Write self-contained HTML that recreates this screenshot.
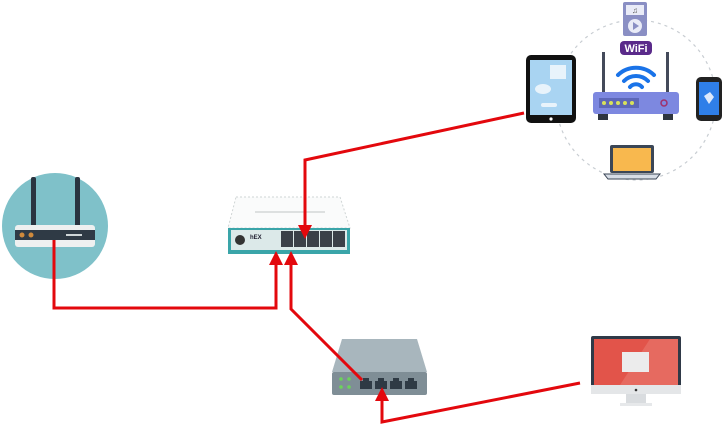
<!DOCTYPE html>
<html><head><meta charset="utf-8"><style>
html,body{margin:0;padding:0;background:#fff;}
svg{display:block;}
</style></head><body>
<svg width="726" height="429" viewBox="0 0 726 429" xmlns="http://www.w3.org/2000/svg" font-family="Liberation Sans, sans-serif">
<circle cx="55" cy="226" r="53" fill="#7fc1c9"/>
<rect x="31" y="177" width="5" height="50" rx="2" fill="#2a3440"/>
<rect x="75" y="177" width="5" height="50" rx="2" fill="#2a3440"/>
<rect x="15" y="225" width="80" height="22" rx="3" fill="#eef0f0"/>
<rect x="15" y="230" width="80" height="10" fill="#2f3a45"/>
<circle cx="22" cy="235" r="2.5" fill="#d08a3c"/><circle cx="31" cy="235" r="2.5" fill="#d08a3c"/>
<rect x="66" y="234" width="16" height="2" fill="#cfd6d8"/>
<path d="M236 197 L340 197 L350 228 L228 228 Z" fill="#fafbfb" stroke="#cfd5d5" stroke-width="1" stroke-dasharray="2 2"/>
<rect x="255" y="211" width="70" height="2" fill="#dde0e0"/>
<rect x="228" y="228" width="122" height="26" fill="#3aa5a9"/>
<rect x="231" y="230" width="116" height="20" fill="#dce9e9"/>
<circle cx="240" cy="240" r="5" fill="#333"/>
<text x="250" y="239" font-size="6" font-weight="bold" fill="#223">hEX</text>
<g fill="#3a4048">
<rect x="281" y="231" width="12" height="16"/><rect x="294" y="231" width="12" height="16"/><rect x="307" y="231" width="12" height="16"/><rect x="320" y="231" width="12" height="16"/><rect x="333" y="231" width="12" height="16"/>
</g>
<circle cx="636" cy="100" r="80" fill="none" stroke="#c8cdd2" stroke-width="1.2" stroke-dasharray="3 4"/>
<rect x="623" y="2" width="24" height="34" rx="2" fill="#8a8fc4"/>
<rect x="626" y="5" width="18" height="10" fill="#e9ebf7"/>
<text x="635" y="13" font-size="8" text-anchor="middle" fill="#555">♫</text>
<circle cx="635" cy="26" r="7" fill="#e9ebf7"/><path d="M633 22 L639 26 L633 30 Z" fill="#8a8fc4"/>
<rect x="620" y="41" width="32" height="14" rx="4" fill="#5a2a8a"/>
<text x="636" y="52" font-size="11" font-weight="bold" text-anchor="middle" fill="#fff">WiFi</text>
<rect x="602" y="52" width="3" height="42" fill="#444a5a"/>
<rect x="666" y="52" width="3" height="42" fill="#444a5a"/>
<g fill="none" stroke="#1a73e8" stroke-width="4" stroke-linecap="round">
<path d="M618 75 A26 26 0 0 1 654 75"/><path d="M624 81 A17 17 0 0 1 648 81"/><path d="M630 87 A8 8 0 0 1 642 87"/>
</g>
<rect x="593" y="92" width="86" height="22" rx="3" fill="#7d88e0"/>
<rect x="599" y="98" width="40" height="10" fill="#5d67b8"/>
<g fill="#d8e25a"><circle cx="604" cy="103" r="2"/><circle cx="611" cy="103" r="2"/><circle cx="618" cy="103" r="2"/><circle cx="625" cy="103" r="2"/><circle cx="632" cy="103" r="2"/></g>
<circle cx="664" cy="103" r="3" fill="none" stroke="#a0306a" stroke-width="1.5"/>
<rect x="598" y="114" width="10" height="6" fill="#2f3540"/><rect x="663" y="114" width="10" height="6" fill="#2f3540"/>
<rect x="526" y="55" width="50" height="68" rx="5" fill="#111"/>
<rect x="530" y="60" width="42" height="55" fill="#a9d4f2"/>
<rect x="550" y="65" width="16" height="14" fill="#e8f3fb"/>
<ellipse cx="543" cy="89" rx="8" ry="5" fill="#e8f3fb"/>
<rect x="541" y="103" width="16" height="4" rx="2" fill="#e8f3fb"/>
<circle cx="551" cy="119" r="1.6" fill="#fff"/>
<rect x="696" y="77" width="26" height="44" rx="5" fill="#222"/>
<rect x="699" y="82" width="20" height="33" fill="#2f7fe8"/>
<path d="M704 96 L710 92 L714 97 L709 104 Z" fill="#dde9fb"/>
<rect x="610" y="145" width="44" height="28" rx="2" fill="#3b4656"/>
<rect x="613" y="148" width="38" height="23" fill="#f8b84e"/>
<path d="M604 174 L660 174 L656 179 L608 179 Z" fill="#d7dde6" stroke="#3b4656" stroke-width="1"/>
<path d="M342 339 L417 339 L427 372 L332 372 Z" fill="#a8b6bd"/>
<rect x="332" y="372" width="95" height="23" rx="2" fill="#7f8e96"/>
<g fill="#6bd35a"><circle cx="341" cy="379" r="1.8"/><circle cx="349" cy="379" r="1.8"/><circle cx="341" cy="387" r="1.8"/><circle cx="349" cy="387" r="1.8"/></g>
<g fill="#2e3a44">
<path d="M360 389 V381 H363 V378 H369 V381 H372 V389Z"/><path d="M375 389 V381 H378 V378 H384 V381 H387 V389Z"/><path d="M390 389 V381 H393 V378 H399 V381 H402 V389Z"/><path d="M405 389 V381 H408 V378 H414 V381 H417 V389Z"/>
</g>
<rect x="591" y="336" width="90" height="58" rx="2" fill="#2f3947"/>
<rect x="594" y="339" width="84" height="46" fill="#e2544a"/>
<path d="M650 339 L678 339 L678 385 L620 385 Z" fill="#e66a60"/>
<rect x="591" y="385" width="90" height="9" fill="#e4e6e8"/>
<circle cx="636" cy="390" r="1.3" fill="#333"/>
<rect x="622" y="352" width="27" height="20" fill="#ececec"/>
<rect x="626" y="394" width="20" height="9" fill="#d9dcdf"/>
<rect x="620" y="403" width="32" height="3" fill="#e6e8ea"/>
<g fill="none" stroke="#e3080d" stroke-width="3">
<polyline points="54,240 54,308 276,308 276,262"/>
<polyline points="291,262 291,309 362,380"/>
<polyline points="524,113 305,160 305,228"/>
<polyline points="580,383 382,422 382,398"/>
</g>
<g fill="#e3080d">
<path d="M276 251 L269 265 L283 265 Z"/>
<path d="M291 251 L284 265 L298 265 Z"/>
<path d="M305 239 L298 225 L312 225 Z"/>
<path d="M382 387 L375 401 L389 401 Z"/>
</g>
</svg>
</body></html>
